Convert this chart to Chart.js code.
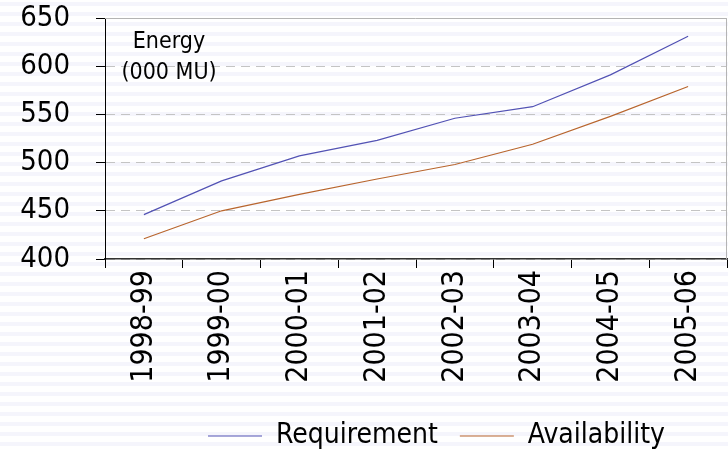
<!DOCTYPE html>
<html>
<head>
<meta charset="utf-8">
<script src="https://cdn.jsdelivr.net/npm/chart.js@4.4.1/dist/chart.umd.min.js"></script>
<style>
  html, body { margin: 0; padding: 0; }
  body {
    width: 728px; height: 451px; overflow: hidden;
    background-color: #ffffff;
    background-image: repeating-linear-gradient(to bottom,
      #ffffff 0px, #ffffff 2px, #f5f5fc 2px, #f5f5fc 6px, #ffffff 6px, #ffffff 10px);
  }
  canvas { display: block; }
</style>
</head>
<body>
<canvas id="c" width="728" height="451"></canvas>
<script>
// Energy requirement vs availability by fiscal year
const years = ['1998-99', '1999-00', '2000-01', '2001-02', '2002-03', '2003-04', '2004-05', '2005-06'];
const requirement = [446, 481, 507, 523, 546, 558, 591, 631];
const availability = [421, 450, 467, 483, 498, 519, 548, 579];
const yMin = 400;
const yMax = 650;
const yStep = 50;
const unitLines = ['Energy', '(000 MU)'];

const FONT = '"DejaVu Sans Condensed", "DejaVu Sans", sans-serif';

// Solid grey frame on top and right of the plot area
const framePlugin = {
  id: 'frame',
  beforeDatasetsDraw(chart) {
    const { ctx, chartArea: a } = chart;
    ctx.save();
    ctx.strokeStyle = '#b4b4b4';
    ctx.lineWidth = 1;
    ctx.beginPath();
    ctx.moveTo(a.left, a.top + 0.5);
    ctx.lineTo(a.right - 0.5, a.top + 0.5);
    ctx.lineTo(a.right - 0.5, a.bottom);
    ctx.stroke();
    ctx.restore();
  }
};

// Unit caption in the upper-left corner of the plot
const unitPlugin = {
  id: 'unitCaption',
  afterDraw(chart) {
    const { ctx, chartArea: a } = chart;
    ctx.save();
    ctx.font = '23px ' + FONT;
    ctx.fillStyle = '#000';
    ctx.textAlign = 'center';
    ctx.textBaseline = 'alphabetic';
    ctx.fillText(unitLines[0], a.left + 64, a.top + 30);
    ctx.fillText(unitLines[1], a.left + 64, a.top + 61);
    ctx.restore();
  }
};

// Nudge the legend toward the plot's centre and lower edge
const legendShift = {
  id: 'legendShift',
  afterLayout(chart) {
    const lg = chart.legend;
    if (!lg) return;
    const dx = 73, dy = 9;
    lg.left += dx; lg.right += dx;
    lg.top += dy; lg.bottom += dy;
  }
};

new Chart(document.getElementById('c'), {
  type: 'line',
  data: {
    labels: years,
    datasets: [
      {
        label: 'Requirement',
        data: requirement,
        borderColor: '#5252b4',
        backgroundColor: '#5252b4',
        borderWidth: 1.2,
        pointRadius: 0,
        tension: 0,
        fill: false
      },
      {
        label: 'Availability',
        data: availability,
        borderColor: '#b8652e',
        backgroundColor: '#b8652e',
        borderWidth: 1.2,
        pointRadius: 0,
        tension: 0,
        fill: false
      }
    ]
  },
  options: {
    responsive: false,
    animation: false,
    devicePixelRatio: 1,
    layout: { padding: { top: 18, right: 1, left: 0, bottom: 0 } },
    plugins: {
      tooltip: { enabled: false },
      title: { display: false },
      legend: {
        position: 'bottom',
        align: 'center',
        labels: {
          usePointStyle: true,
          pointStyle: 'line',
          pointStyleWidth: 54,
          padding: 22,
          color: '#000',
          font: { family: FONT, size: 28 }
        }
      }
    },
    scales: {
      x: {
        type: 'category',
        offset: true,
        grid: {
          offset: true,
          drawOnChartArea: false,
          drawTicks: true,
          tickLength: 9,
          color: '#000',
          tickColor: '#000'
        },
        border: { display: true, color: '#333333', width: 1.5 },
        ticks: {
          autoSkip: false,
          minRotation: 90,
          maxRotation: 90,
          padding: 2,
          color: '#000',
          font: { family: FONT, size: 30 }
        },
        afterFit(scale) {
          scale.height = 132;
          scale.paddingLeft = 0;
          scale.paddingRight = 0;
        }
      },
      y: {
        min: yMin,
        max: yMax,
        grid: {
          color: '#c4c4c4',
          tickColor: '#000',
          tickLength: 9,
          drawTicks: true
        },
        border: { display: true, color: '#000', width: 1, dash: [9, 6] },
        ticks: {
          stepSize: yStep,
          padding: 26,
          color: '#000',
          font: { family: FONT, size: 29 }
        },
        afterFit(scale) {
          scale.width = 105;
          scale.paddingTop = 0;
          scale.paddingBottom = 0;
        }
      }
    }
  },
  plugins: [framePlugin, unitPlugin, legendShift]
});
</script>
</body>
</html>
